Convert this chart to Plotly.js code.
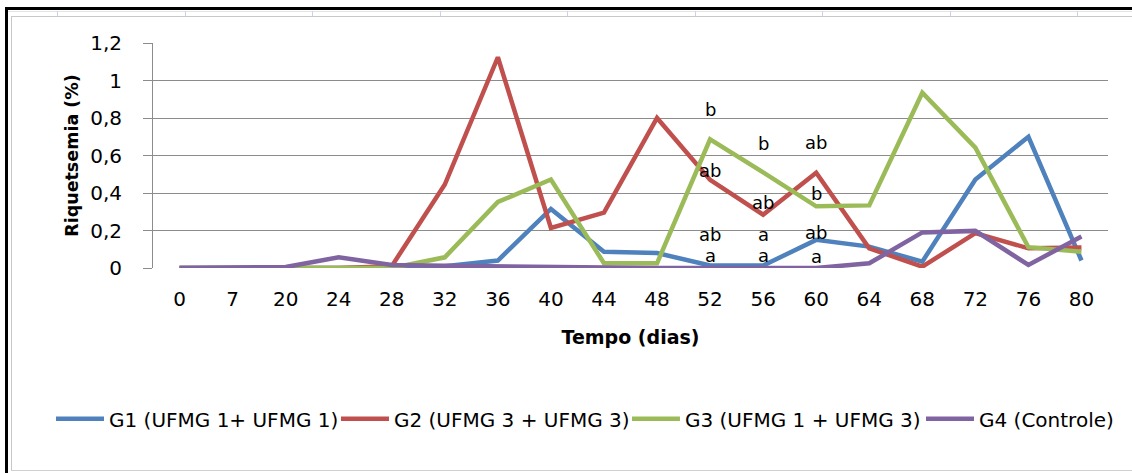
<!DOCTYPE html>
<html>
<head>
<meta charset="utf-8">
<script src="https://cdn.plot.ly/plotly-3.0.1.min.js"></script>
<style>
  html, body { margin: 0; padding: 0; background: #ffffff; }
  #wrap { position: relative; width: 1132px; height: 473px; overflow: hidden; background: #ffffff; }
  .ln { position: absolute; }
  #chart { position: absolute; left: 0; top: 0; width: 1132px; height: 473px; }
</style>
</head>
<body>
<div id="wrap">
  <!-- sheet frame behind the chart object -->
  <div class="ln" style="left:5px; top:7px; width:1127px; height:3px; background:#000;"></div>
  <div class="ln" style="left:5px; top:7px; width:3px; height:466px; background:#000;"></div>
  <div class="ln" style="left:8px; top:11px; width:1124px; height:1px; background:#e4e4e4;"></div>
  <div class="ln" style="left:11px; top:16px; width:1121px; height:1px; background:#c8c8c8;"></div>
  <div class="ln" style="left:11px; top:16px; width:1px; height:455px; background:#c8c8c8;"></div>
  <div class="ln" style="left:11px; top:470px; width:1121px; height:1px; background:#d0d0d0;"></div>
  <div id="cells"></div>
  <div id="chart"></div>
</div>
<script>
// column separators of the sheet row above the chart
(function () {
  var cells = document.getElementById('cells');
  for (var x = 57; x < 1132; x += 127.5) {
    var d = document.createElement('div');
    d.className = 'ln';
    d.style.cssText = 'left:' + Math.round(x) + 'px; top:11px; width:1px; height:5px; background:#c9d4e8;';
    cells.appendChild(d);
  }
})();

// sampling days
var dias = ['0', '7', '20', '24', '28', '32', '36', '40', '44', '48', '52', '56', '60', '64', '68', '72', '76', '80'];

// rickettsaemia (%) per group
var g1 = [0, 0, 0, 0, 0, 0.01, 0.04, 0.315, 0.087, 0.08, 0.013, 0.013, 0.15, 0.114, 0.034, 0.472, 0.70, 0.04];
var g2 = [0, 0, 0, 0, 0.01, 0.445, 1.124, 0.214, 0.295, 0.80, 0.47, 0.284, 0.508, 0.105, 0.007, 0.186, 0.105, 0.11];
var g3 = [0, 0, 0, 0, 0, 0.057, 0.352, 0.472, 0.025, 0.025, 0.686, 0.51, 0.329, 0.334, 0.935, 0.642, 0.111, 0.087];
var g4 = [0, 0, 0.005, 0.057, 0.016, 0.012, 0.008, 0.006, 0, 0, 0, 0, 0, 0.025, 0.19, 0.198, 0.016, 0.168];

var nomes = ['G1 (UFMG 1+ UFMG 1)', 'G2 (UFMG 3 + UFMG 3)', 'G3 (UFMG 1 + UFMG 3)', 'G4 (Controle)'];
var cores = ['#4f81bd', '#c0504d', '#9bbb59', '#8064a2'];

// significance letters on days 52, 56 and 60
var letrasDia = ['52', '52', '52', '52', '56', '56', '56', '56', '60', '60', '60', '60'];
var letrasTxt = ['b', 'ab', 'ab', 'a', 'b', 'ab', 'a', 'a', 'ab', 'b', 'ab', 'a'];
var letrasY = [0.847, 0.52, 0.178, 0.066, 0.665, 0.349, 0.178, 0.066, 0.67, 0.397, 0.19, 0.062];

var FONT = '"DejaVu Sans", sans-serif';

// one legend per series so each entry sits at its own spot on the row
var legendIds = ['legend', 'legend2', 'legend3', 'legend4'];
var legendX = [-0.1068, 0.1916, 0.4963, 0.8042];

var traces = [g1, g2, g3, g4].map(function (serie, i) {
  return {
    type: 'scatter',
    mode: 'lines',
    x: dias,
    y: serie,
    name: nomes[i],
    legend: legendIds[i],
    line: { color: cores[i], width: 4.5 },
    hoverinfo: 'x+y+name'
  };
});

// category labels look numeric, so place the letters by category index
var annotations = letrasTxt.map(function (t, i) {
  return {
    x: dias.indexOf(letrasDia[i]),
    y: letrasY[i],
    xref: 'x',
    yref: 'y',
    text: t,
    showarrow: false,
    font: { family: FONT, size: 18, color: '#000000' }
  };
});

var layout = {
  width: 1132,
  height: 473,
  paper_bgcolor: 'rgba(0,0,0,0)',
  plot_bgcolor: 'rgba(0,0,0,0)',
  separators: ',.',
  margin: { l: 153, r: 24, t: 43, b: 205, pad: 0 },
  font: { family: FONT, size: 20, color: '#000000' },
  showlegend: true,
  xaxis: {
    type: 'category',
    range: [-0.5, 17.5],
    showgrid: false,
    zeroline: false,
    showline: false,
    ticks: 'outside',
    ticklen: 13,
    tickcolor: 'rgba(0,0,0,0)',
    tickfont: { family: FONT, size: 20, color: '#000000' },
    title: { text: '<b>Tempo (dias)</b>', font: { family: FONT, size: 19, color: '#000000' }, standoff: 20 },
    automargin: false,
    fixedrange: true
  },
  yaxis: {
    range: [0, 1.2],
    tickvals: [0, 0.2, 0.4, 0.6, 0.8, 1, 1.2],
    showgrid: true,
    gridcolor: '#8c8c8c',
    gridwidth: 1,
    zeroline: false,
    showline: true,
    linecolor: '#8c8c8c',
    linewidth: 1,
    ticks: 'outside',
    ticklen: 9,
    tickcolor: '#8c8c8c',
    ticklabelstandoff: 17,
    tickfont: { family: FONT, size: 20, color: '#000000' },
    title: { text: '<b>Riquetsemia (%)</b>', font: { family: FONT, size: 17.5, color: '#000000' }, standoff: 7 },
    automargin: false,
    fixedrange: true
  },
  annotations: annotations
};

legendIds.forEach(function (id, i) {
  layout[id] = {
    orientation: 'h',
    x: legendX[i],
    xanchor: 'left',
    y: -0.67,
    yanchor: 'middle',
    font: { family: FONT, size: 20, color: '#000000' },
    bgcolor: 'rgba(0,0,0,0)',
    itemwidth: 48
  };
});

Plotly.newPlot('chart', traces, layout, { displayModeBar: false });
</script>
</body>
</html>
